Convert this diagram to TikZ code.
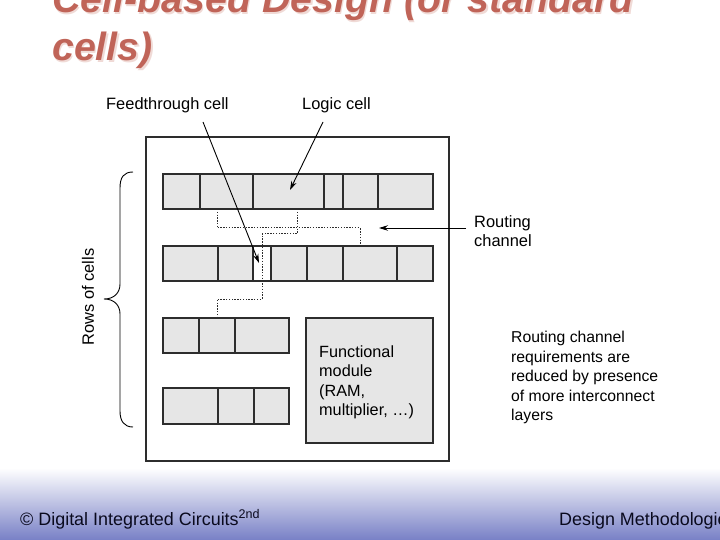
\documentclass[tikz,border=0pt]{standalone}
\usepackage{fontspec}
\setmainfont{Liberation Sans}
\usetikzlibrary{arrows.meta}
\definecolor{cellfill}{RGB}{230,230,230}
\definecolor{edge}{RGB}{45,45,45}
\definecolor{titlered}{RGB}{192,100,88}
\definecolor{titleshadow}{RGB}{240,218,214}
\definecolor{footblue}{RGB}{120,128,198}
\definecolor{foottext}{RGB}{10,10,30}
\begin{document}
\begin{tikzpicture}[x=1bp,y=-1bp,
  cell/.style={draw=edge, fill=cellfill, line width=1.2bp},
  box/.style={draw=edge, line width=1.2bp},
  divider/.style={draw=edge, line width=1.2bp},
  wire/.style={draw=edge, line width=1bp, dash pattern=on 1.4bp off 1.4bp},
  pointer/.style={draw=black, line width=0.9bp, -{Stealth[length=9bp,width=5.5bp]}},
  lbl/.style={font=\fontsize{16.5}{19}\selectfont, inner sep=0pt, anchor=base west},
  note/.style={font=\fontsize{15.8}{19}\selectfont, inner sep=0pt, anchor=base west},
  modtext/.style={font=\fontsize{16.3}{19}\selectfont, inner sep=0pt, anchor=base west},
  title/.style={font=\fontsize{39.5}{48}\selectfont\bfseries\itshape, inner sep=0pt, anchor=base west},
  foot/.style={font=\fontsize{18}{20}\selectfont, inner sep=0pt, anchor=base west, text=foottext},
]
\clip (0,0) rectangle (720,540);
\fill[white] (0,0) rectangle (720,540);
\shade[top color=white, bottom color=footblue] (0,468) rectangle (720,540);

% title
\node[title, text=titleshadow] (t1s) at (53.5,14.5) {Cell-based Design (or standard};
\node[title, text=titleshadow] (t2s) at (53.5,62.5) {cells)};
\node[title, text=titlered] (t1) at (52,13) {Cell-based Design (or standard};
\node[title, text=titlered] (t2) at (52,61) {cells)};

% outer chip
\draw[box] (146,137) rectangle (449,461);

% row 1
\draw[cell] (163,174) rectangle (433,209);
\foreach \x in {200,253,324,343,378} \draw[divider] (\x,174) -- (\x,209);
% row 2
\draw[cell] (163,246) rectangle (433,281);
\fill[white] (253,246) rectangle (271,281);
\draw[box] (163,246) rectangle (433,281);
\foreach \x in {218,253,271,307,343,397} \draw[divider] (\x,246) -- (\x,281);
% row 3
\draw[cell] (163,318) rectangle (289,353);
\foreach \x in {199,235} \draw[divider] (\x,318) -- (\x,353);
% row 4
\draw[cell] (163,388) rectangle (289,424);
\foreach \x in {218,254} \draw[divider] (\x,388) -- (\x,424);
% functional module
\draw[cell] (306,318) rectangle (433,443);
\node[modtext] (fm1) at (319,357) {Functional};
\node[modtext] (fm2) at (319,376.5) {module};
\node[modtext] (fm3) at (319,396) {(RAM,};
\node[modtext] (fm4) at (319,415.5) {multiplier, …)};

% wires
\draw[wire] (217,209) -- (217,228) -- (360,228) -- (360,246);
\draw[wire] (297,209) -- (297,234) -- (262,234) -- (262,299) -- (217,299) -- (217,318);

% labels and pointers
\node[lbl] (feed) at (106,110) {Feedthrough cell};
\node[lbl] (logic) at (302,110) {Logic cell};
\node[lbl] (rc1) at (474,228) {Routing};
\node[lbl] (rc2) at (474,246.5) {channel};
\coordinate (feedS) at (203,122);
\coordinate (feedE) at (259,263);
\coordinate (logS) at (323,122);
\coordinate (logE) at (290,190);
\coordinate (rcS) at (466,228);
\coordinate (rcE) at (379,228);
\draw[pointer] (feedS) -- (feedE);
\draw[pointer] (logS) -- (logE);
\draw[pointer] (rcS) -- (rcE);

% brace and rows label
\draw[line width=0.9bp] (133,172) .. controls (124,172) and (120,177) .. (120,188) -- (120,284)
  .. controls (120,293) and (114,299) .. (104,299)
  .. controls (114,299) and (120,305) .. (120,314) -- (120,411)
  .. controls (120,421) and (124,427) .. (133,427);
\node[font=\fontsize{16.5}{19}\selectfont, rotate=90, inner sep=0pt] (rows) at (88,297) {Rows of cells};

% note on right
\node[note] (n1) at (511,342.5) {Routing channel};
\node[note] (n2) at (511,362) {requirements are};
\node[note] (n3) at (511,381.5) {reduced by presence};
\node[note] (n4) at (511,401) {of more interconnect};
\node[note] (n5) at (511,420) {layers};

% footer
\node[foot] (f1) at (20,525) {© Digital Integrated Circuits\textsuperscript{2nd}};
\node[foot] (f2) at (559,525) {Design Methodologies};
\end{tikzpicture}
\end{document}
